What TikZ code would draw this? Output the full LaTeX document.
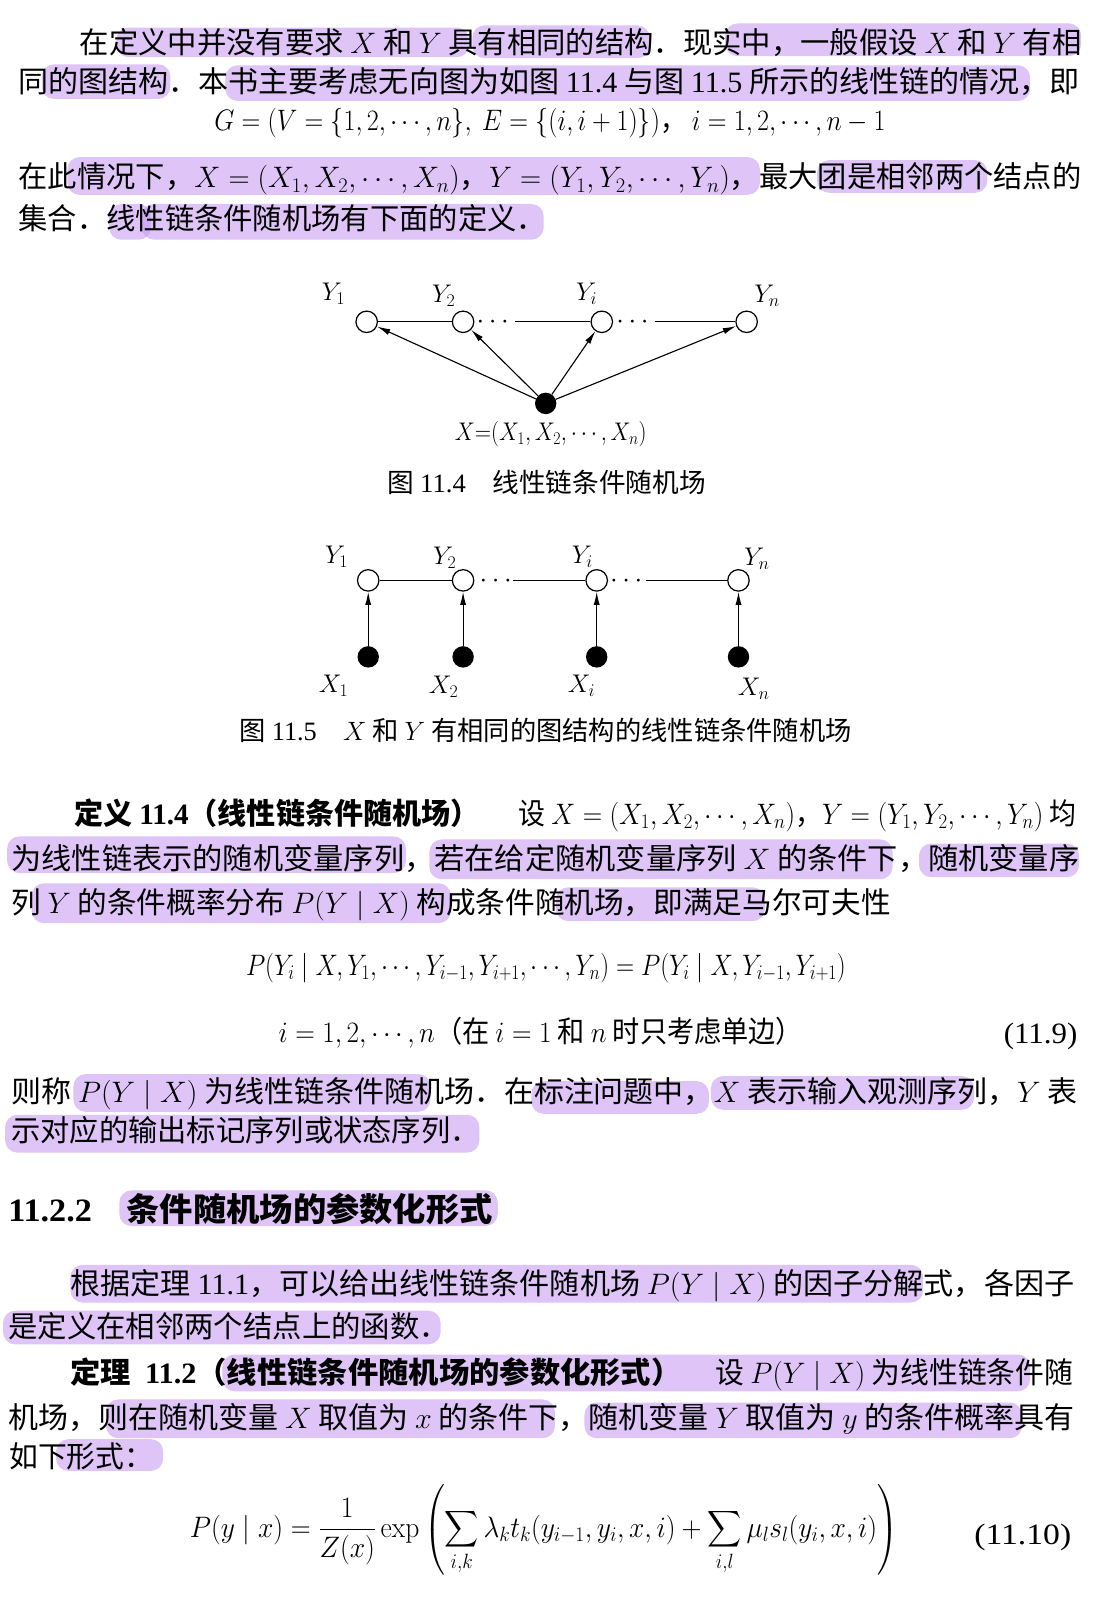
\RequirePackage{fix-cm}
\documentclass[tikz,border=0pt]{standalone}
\usepackage{exscale}
\usepackage[no-math]{fontspec}
\setmainfont{Noto Sans CJK SC}
\newfontfamily\lat{Liberation Serif}
\usepackage{graphicx}
\usetikzlibrary{arrows.meta}
\definecolor{hlc}{RGB}{200,157,243}
\newcommand\fitw[2]{\resizebox{#1pt}{\height}{#2}}
\begin{document}
\begin{tikzpicture}[x=1pt,y=-1pt,
  bodytxt/.style={anchor=base west, inner sep=0pt, font=\fontsize{29}{34}\selectfont},
  headtxt/.style={anchor=base west, inner sep=0pt, font=\fontsize{32}{38}\selectfont\bfseries},
  captxt/.style={anchor=center, inner sep=0pt, font=\fontsize{26}{30}\selectfont},
  labtxt/.style={anchor=center, inner sep=0pt, font=\fontsize{25}{30}\selectfont},
  dotsn/.style={anchor=base, inner sep=0pt, font=\fontsize{27}{32}\selectfont},
  hlbox/.style={fill=hlc, fill opacity=0.6, rounded corners=12pt},
  ynode/.style={circle, draw, fill=white, minimum size=21pt, inner sep=0pt, line width=1.2pt},
  xnode/.style={circle, fill=black, minimum size=21pt, inner sep=0pt},
  linkln/.style={line width=1.1pt},
  arrln/.style={line width=1.1pt, -{Latex[length=13pt,width=6pt]}},
]
\path[use as bounding box, fill=white] (0,0) rectangle (1082.4,1570.6);

% ---------- highlights ----------
\path[hlbox] (114,27) rectangle (460,56);
\path[hlbox] (463,25) rectangle (637,57);
\path[hlbox] (711,23) rectangle (1060,55);
\path[hlbox] (41,63) rectangle (167,97);
\path[hlbox] (221,64) rectangle (1010,99);
\path[hlbox] (66,154) rectangle (745,191);
\path[hlbox] (801,157) rectangle (968,189);
\path[hlbox] (107,200) rectangle (148,235);
\path[hlbox] (139,200) rectangle (533,235);
\path[hlbox] (7,820) rectangle (398,856);
\path[hlbox] (421,823) rectangle (875,862);
\path[hlbox] (901,827) rectangle (1058,860);
\path[hlbox] (31,866) rectangle (442,905);
\path[hlbox] (545,870) rectangle (750,903);
\path[hlbox] (72,1053) rectangle (422,1090);
\path[hlbox] (521,1060) rectangle (695,1092);
\path[hlbox] (697,1055) rectangle (955,1088);
\path[hlbox] (5,1093) rectangle (470,1130);
\path[hlbox] (117,1167) rectangle (488,1202);
\path[hlbox] (69,1240) rectangle (905,1277);
\path[hlbox] (3,1285) rectangle (432,1318);
\path[hlbox] (218,1328) rectangle (1010,1364);
\path[hlbox] (104,1372) rectangle (544,1410);
\path[hlbox] (573,1375) rectangle (1002,1410);
\path[hlbox] (55,1411) rectangle (160,1442);

% ---------- opening paragraph ----------
\node[bodytxt] (l1) at (78,52) {\fitw{982}{在定义中并没有要求 $X$ 和 $Y$ 具有相同的结构．现实中，一般假设 $X$ 和 $Y$ 有相}};
\node[bodytxt] (l2) at (18,91) {\fitw{1040}{同的图结构．本书主要考虑无向图为如图 {\lat 11.4} 与图 {\lat 11.5} 所示的线性链的情况，即}};
\node[bodytxt] (l3) at (210,128) {\fitw{658}{$G=(V=\{1,2,\cdots,n\},\ E=\{(i,i+1)\})$，\ $i=1,2,\cdots,n-1$}};
\node[bodytxt] (l4) at (18,184) {\fitw{1042}{在此情况下，$X=(X_1,X_2,\cdots,X_n)$，$Y=(Y_1,Y_2,\cdots,Y_n)$，最大团是相邻两个结点的}};
\node[bodytxt] (l5) at (18,225) {\fitw{517}{集合．线性链条件随机场有下面的定义．}};

% ---------- figure 11.4 ----------
\node[ynode] (a1) at (359.5,315.5) {};
\node[ynode] (a2) at (454,315.5) {};
\node[ynode] (ai) at (590,315.5) {};
\node[ynode] (an) at (732,315.5) {};
\node[xnode] (ax) at (535,395.5) {};
\node[dotsn] (ad1) at (483,322) {$\cdots$};
\node[dotsn] (ad2) at (620,322) {$\cdots$};
\coordinate (as1) at (505,315.5);
\coordinate (as2) at (642,315.5);
\draw[linkln] (a1) -- (a2);
\draw[linkln] (as1) -- (ai);
\draw[linkln] (as2) -- (an);
\draw[arrln] (ax) -- (a1);
\draw[arrln] (ax) -- (a2);
\draw[arrln] (ax) -- (ai);
\draw[arrln] (ax) -- (an);
\node[labtxt] (ay1) at (327,288) {$Y_1$};
\node[labtxt] (ay2) at (435,290) {$Y_2$};
\node[labtxt] (ayi) at (575,288) {$Y_i$};
\node[labtxt] (ayn) at (752,290) {$Y_n$};
\node[labtxt] (axl) at (540,426) {\fitw{188}{$X{=}(X_1,X_2,\cdots,X_n)$}};
\node[captxt] (cap4) at (536,473) {\fitw{312}{图 {\lat 11.4}\quad 线性链条件随机场}};

% ---------- figure 11.5 ----------
\node[ynode] (b1) at (361,569) {};
\node[ynode] (b2) at (454,569) {};
\node[ynode] (bi) at (585,569) {};
\node[ynode] (bn) at (724,569) {};
\node[xnode] (c1) at (361,644) {};
\node[xnode] (c2) at (454,644) {};
\node[xnode] (ci) at (585,644) {};
\node[xnode] (cn) at (724,644) {};
\node[dotsn] (bd1) at (486,575.5) {$\cdots$};
\node[dotsn] (bd2) at (614,575.5) {$\cdots$};
\coordinate (bs1) at (503,569);
\coordinate (bs2) at (633,569);
\draw[linkln] (b1) -- (b2);
\draw[linkln] (bs1) -- (bi);
\draw[linkln] (bs2) -- (bn);
\draw[arrln] (c1) -- (b1);
\draw[arrln] (c2) -- (b2);
\draw[arrln] (ci) -- (bi);
\draw[arrln] (cn) -- (bn);
\node[labtxt] (by1) at (330,546) {$Y_1$};
\node[labtxt] (by2) at (436,547) {$Y_2$};
\node[labtxt] (byi) at (571,546) {$Y_i$};
\node[labtxt] (byn) at (742,548) {$Y_n$};
\node[labtxt] (bx1) at (327,672) {$X_1$};
\node[labtxt] (bx2) at (435,673) {$X_2$};
\node[labtxt] (bxi) at (570,672) {$X_i$};
\node[labtxt] (bxn) at (739,675) {$X_n$};
\node[captxt] (cap5) at (535,716) {\fitw{600}{图 {\lat 11.5}\quad $X$ 和 $Y$ 有相同的图结构的线性链条件随机场}};

% ---------- definition 11.4 ----------
\node[bodytxt] (d1a) at (73,808) {\fitw{397}{\bfseries 定义 {\lat 11.4}（线性链条件随机场）}};
\node[bodytxt] (d1b) at (508,808) {\fitw{547}{设 $X=(X_1,X_2,\cdots,X_n)$，$Y=(Y_1,Y_2,\cdots,Y_n)$ 均}};
\node[bodytxt] (d2) at (11,852) {\fitw{1047}{为线性链表示的随机变量序列，若在给定随机变量序列 $X$ 的条件下，随机变量序}};
\node[bodytxt] (d3) at (11,896) {\fitw{862}{列 $Y$ 的条件概率分布 $P(Y\mid X)$ 构成条件随机场，即满足马尔可夫性}};
\node[bodytxt] (f1) at (241,956) {\fitw{588}{$P(Y_i\mid X,Y_1,\cdots,Y_{i-1},Y_{i+1},\cdots,Y_n)=P(Y_i\mid X,Y_{i-1},Y_{i+1})$}};
\node[bodytxt] (f2) at (273,1022) {\fitw{514}{$i=1,2,\cdots,n$（在 $i=1$ 和 $n$ 时只考虑单边）}};
\node[bodytxt] (e1) at (984,1023) {\fitw{72}{\lat (11.9)}};
\node[bodytxt] (d4) at (11,1081) {\fitw{1045}{则称 $P(Y\mid X)$ 为线性链条件随机场．在标注问题中，$X$ 表示输入观测序列，$Y$ 表}};
\node[bodytxt] (d5) at (11,1119) {\fitw{459}{示对应的输出标记序列或状态序列．}};

% ---------- section 11.2.2 ----------
\node[headtxt] (h1) at (8,1198) {\fitw{82}{\lat\bfseries 11.2.2}};
\node[headtxt] (h2) at (124,1198) {\fitw{359}{条件随机场的参数化形式}};
\node[bodytxt] (p1) at (69,1269) {\fitw{984}{根据定理 {\lat 11.1}，可以给出线性链条件随机场 $P(Y\mid X)$ 的因子分解式，各因子}};
\node[bodytxt] (p2) at (8,1311) {\fitw{432}{是定义在相邻两个结点上的函数．}};
\node[bodytxt] (t1a) at (69,1356) {\fitw{599}{\bfseries 定理\ \ {\lat 11.2}（线性链条件随机场的参数化形式）}};
\node[bodytxt] (t1b) at (701,1356) {\fitw{351}{设 $P(Y\mid X)$ 为线性链条件随}};
\node[bodytxt] (t2) at (8,1400) {\fitw{1045}{机场，则在随机变量 $X$ 取值为 $x$ 的条件下，随机变量 $Y$ 取值为 $y$ 的条件概率具有}};
\node[bodytxt] (t3) at (9,1439) {\fitw{141}{如下形式：}};
\node[bodytxt] (f3) at (186,1507) {\fitw{694}{$\displaystyle P(y\mid x)=\frac{1}{Z(x)}\exp\left(\sum_{i,k}\lambda_k t_k(y_{i-1},y_i,x,i)+\sum_{i,l}\mu_l s_l(y_i,x,i)\right)$}};
\node[bodytxt] (e2) at (955,1514) {\fitw{95}{\lat (11.10)}};
\end{tikzpicture}
\end{document}
